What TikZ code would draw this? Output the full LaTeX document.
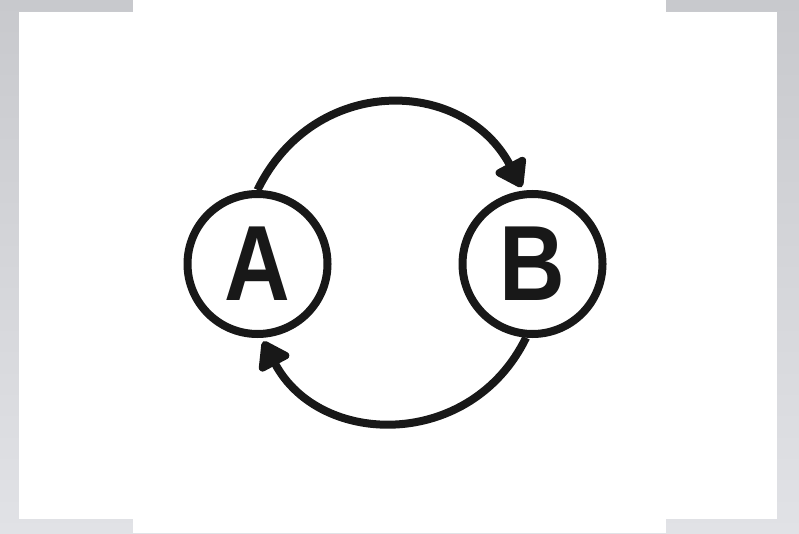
\documentclass[tikz,border=0pt]{standalone}
\usepackage{fontspec}
\setmainfont{Liberation Sans}
\usetikzlibrary{arrows.meta}
\definecolor{ink}{RGB}{24,24,24}
\definecolor{frametop}{RGB}{200,201,205}
\definecolor{framebot}{RGB}{225,226,230}
\tikzset{
  statenode/.style={circle, draw=ink, line width=8pt, minimum size=140pt, inner sep=0pt, text=ink},
  flow/.style={draw=ink, line width=8pt, -{Triangle[length=30pt,width=38pt,round]}}
}
\begin{document}
\begin{tikzpicture}[x=1pt,y=1pt]
\useasboundingbox (0,0) rectangle (799,533);
\shade[top color=frametop, bottom color=framebot] (0,0) rectangle (799,533);
\fill[white] (19,14) rectangle (777,521);
\fill[white] (133,0) rectangle (666,533);
\node[statenode] (A) at (257.5,269) {\scalebox{0.85}[1]{\fontsize{107}{107}\selectfont\bfseries A}};
\node[statenode] (B) at (532.5,269) {\scalebox{0.85}[1]{\fontsize{107}{107}\selectfont\bfseries B}};
\draw[flow, shorten >=4pt] (A.north) to[out=64, in=118, looseness=1.24] (B.97);
\draw[flow, shorten >=4pt] (B.265) to[out=244, in=298, looseness=1.21] (A.273);
\end{tikzpicture}
\end{document}
